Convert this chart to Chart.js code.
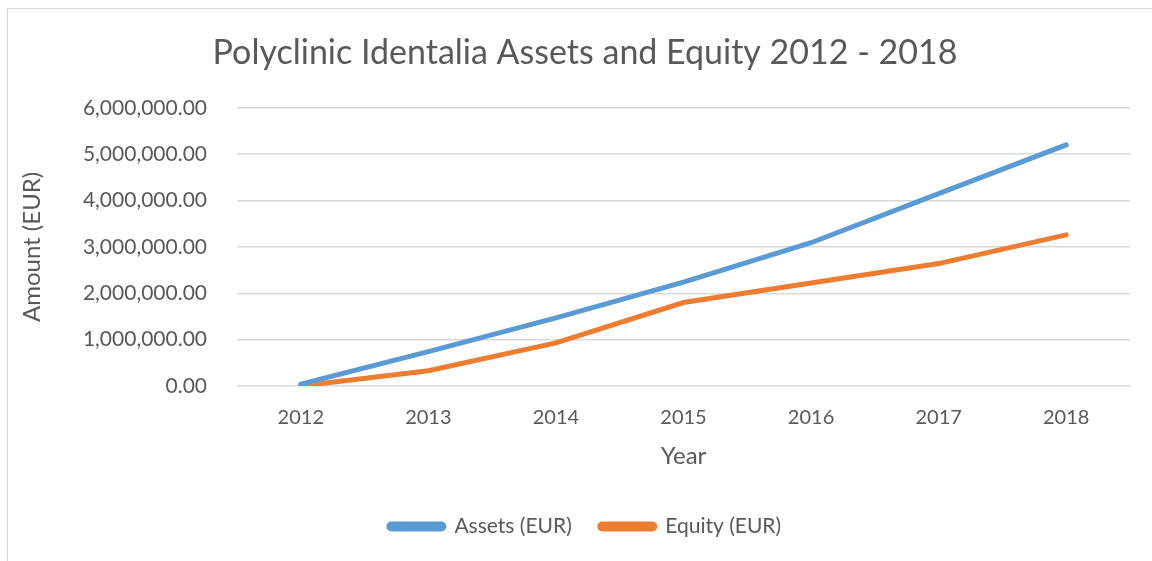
<!DOCTYPE html>
<html>
<head>
<meta charset="utf-8">
<script src="https://cdn.jsdelivr.net/npm/chart.js@4/dist/chart.umd.min.js"></script>
<style>
    html, body { margin: 0; padding: 0; background: #fff; overflow: hidden; }
    #wrap { position: relative; width: 1152px; height: 561px; }
    #frame { position: absolute; left: 7px; top: 8px; width: 1200px; height: 600px; border: 1px solid #d9d9d9; }
    canvas { position: absolute; left: 0; top: 0; }
</style>
</head>
<body>
<div id="wrap">
    <div id="frame"></div>
    <canvas id="chart" width="1152" height="561"></canvas>
</div>
<script>
const years = ['2012', '2013', '2014', '2015', '2016', '2017', '2018'];
const assets = [40000, 740000, 1470000, 2240000, 3090000, 4150000, 5200000];
const equity = [0, 330000, 930000, 1800000, 2220000, 2640000, 3260000];

const textColor = '#595959';
const gridColor = '#d9d9d9';
const fontFamily = 'Lato, "Open Sans", sans-serif';

Chart.defaults.font.family = fontFamily;
Chart.defaults.color = textColor;

const ctx = document.getElementById('chart').getContext('2d');
new Chart(ctx, {
    type: 'line',
    data: {
        labels: years,
        datasets: [{
            label: 'Assets (EUR)',
            data: assets,
            borderColor: '#5b9bd5',
            backgroundColor: '#5b9bd5',
            borderWidth: 5,
            borderCapStyle: 'round',
            pointRadius: 0,
            tension: 0
        }, {
            label: 'Equity (EUR)',
            data: equity,
            borderColor: '#ed7d31',
            backgroundColor: '#ed7d31',
            borderWidth: 5,
            borderCapStyle: 'round',
            pointRadius: 0,
            tension: 0
        }]
    },
    options: {
        responsive: false,
        animation: false,
        layout: { padding: { left: 40, right: 22, top: 8, bottom: 14 } },
        scales: {
            x: {
                offset: true,
                grid: { display: false },
                border: { display: false },
                ticks: { font: { size: 20 }, color: textColor, padding: 12 },
                title: { display: true, text: 'Year', font: { size: 24 }, color: textColor, padding: { top: 0, bottom: 17 } },
                afterFit: function (scale) { scale.height = 102; }
            },
            y: {
                min: 0,
                max: 6000000,
                grid: { color: gridColor, lineWidth: 1.5, drawTicks: false },
                border: { display: false },
                ticks: {
                    stepSize: 1000000,
                    padding: 30,
                    font: { size: 21 },
                    color: textColor,
                    callback: v => v.toLocaleString('en-US', { minimumFractionDigits: 2, maximumFractionDigits: 2 })
                },
                title: { display: true, text: 'Amount (EUR)', font: { size: 24 }, color: textColor, padding: { top: -22, bottom: 0 } },
                afterFit: function (scale) { scale.width = 197; }
            }
        },
        plugins: {
            title: {
                display: true,
                text: 'Polyclinic Identalia Assets and Equity 2012 - 2018',
                font: { size: 34, weight: 'normal' },
                color: textColor,
                padding: { top: 25, bottom: 34 }
            },
            legend: {
                position: 'bottom',
                labels: {
                    boxWidth: 55,
                    boxHeight: 5,
                    useBorderRadius: true,
                    borderRadius: 2.5,
                    padding: 28,
                    font: { size: 21 },
                    color: textColor
                }
            },
            tooltip: { enabled: false }
        }
    }
});
</script>
</body>
</html>
